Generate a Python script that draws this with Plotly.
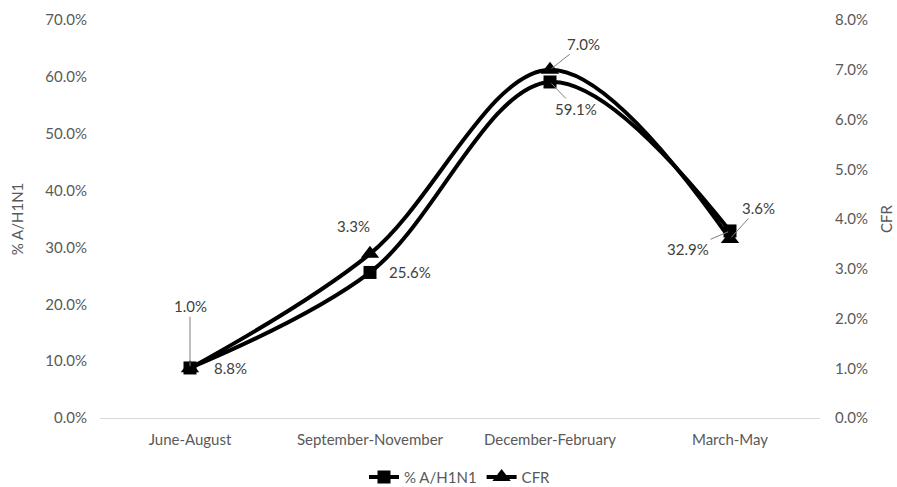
import plotly.graph_objects as go

# Seasonal periods and the two series
seasons = ["June-August", "September-November", "December-February", "March-May"]
pct_h1n1 = [8.8, 25.6, 59.1, 32.9]   # % A/H1N1 (left axis)
cfr = [1.0, 3.3, 7.0, 3.6]           # case fatality rate (right axis)

left_ticks = [0, 10, 20, 30, 40, 50, 60, 70]
right_ticks = [0, 1, 2, 3, 4, 5, 6, 7, 8]

# Label offsets (pixels) for each point: (ax, ay, leader line shown)
pct_label_offsets = [(40, 0, False), (40, 0, False), (26, 27, True), (-42, 18, True)]
cfr_label_offsets = [(0, -62, True), (-17, -28, False), (33, -26, True), (28, -31, True)]

font_family = "Lato, Open Sans, Liberation Sans, Arial, sans-serif"
tick_color = "#595959"
label_color = "#404040"

fig = go.Figure()

fig.add_trace(go.Scatter(
    x=seasons, y=pct_h1n1, name="% A/H1N1", mode="lines+markers",
    line=dict(color="black", width=4, shape="spline", smoothing=1.0),
    marker=dict(symbol="square", size=13, color="black"),
    yaxis="y",
))
fig.add_trace(go.Scatter(
    x=seasons, y=cfr, name="CFR", mode="lines+markers",
    line=dict(color="black", width=4, shape="spline", smoothing=1.0),
    marker=dict(symbol="triangle-up", size=16, color="black"),
    yaxis="y2",
))

annotations = []
for s, v, (ax, ay, arrow) in zip(seasons, pct_h1n1, pct_label_offsets):
    annotations.append(dict(
        x=s, y=v, xref="x", yref="y", text=f"{v:.1f}%",
        showarrow=arrow, arrowhead=0, arrowwidth=1, arrowcolor="#7f7f7f",
        ax=ax, ay=ay, standoff=2,
        xshift=0 if arrow else ax, yshift=0 if arrow else -ay,
        font=dict(family=font_family, size=15, color=label_color),
    ))
for s, v, (ax, ay, arrow) in zip(seasons, cfr, cfr_label_offsets):
    annotations.append(dict(
        x=s, y=v, xref="x", yref="y2", text=f"{v:.1f}%",
        showarrow=arrow, arrowhead=0, arrowwidth=1, arrowcolor="#7f7f7f",
        ax=ax, ay=ay, standoff=2,
        xshift=0 if arrow else ax, yshift=0 if arrow else -ay,
        font=dict(family=font_family, size=15, color=label_color),
    ))

fig.update_layout(
    width=897, height=487,
    margin=dict(l=100, r=77, t=20, b=69, autoexpand=False),
    paper_bgcolor="white", plot_bgcolor="white",
    font=dict(family=font_family, size=15, color=tick_color),
    showlegend=True,
    legend=dict(orientation="h", x=0.5, xanchor="center",
                yref="container", y=0.02, yanchor="middle",
                font=dict(size=15, color=tick_color)),
    xaxis=dict(
        type="category", range=[-0.5, 3.5], showgrid=False,
        showline=True, linecolor="#d9d9d9", linewidth=1,
        ticks="", ticklabelstandoff=8, tickfont=dict(size=15, color=tick_color),
    ),
    yaxis=dict(
        range=[0, 70], tickvals=left_ticks,
        ticktext=[f"{t:.1f}%" for t in left_ticks],
        showgrid=False, zeroline=False, showline=False, ticks="",
        ticklabelstandoff=12, automargin=False,
        title=dict(text="% A/H1N1", font=dict(size=15, color=tick_color), standoff=18),
    ),
    yaxis2=dict(
        range=[0, 8], tickvals=right_ticks,
        ticktext=[f"{t:.1f}%" for t in right_ticks],
        overlaying="y", side="right",
        showgrid=False, zeroline=False, showline=False, ticks="",
        ticklabelstandoff=14, automargin=False,
        title=dict(text="CFR", font=dict(size=15, color=tick_color), standoff=14),
    ),
    annotations=annotations,
)

fig.write_html("out.html")
